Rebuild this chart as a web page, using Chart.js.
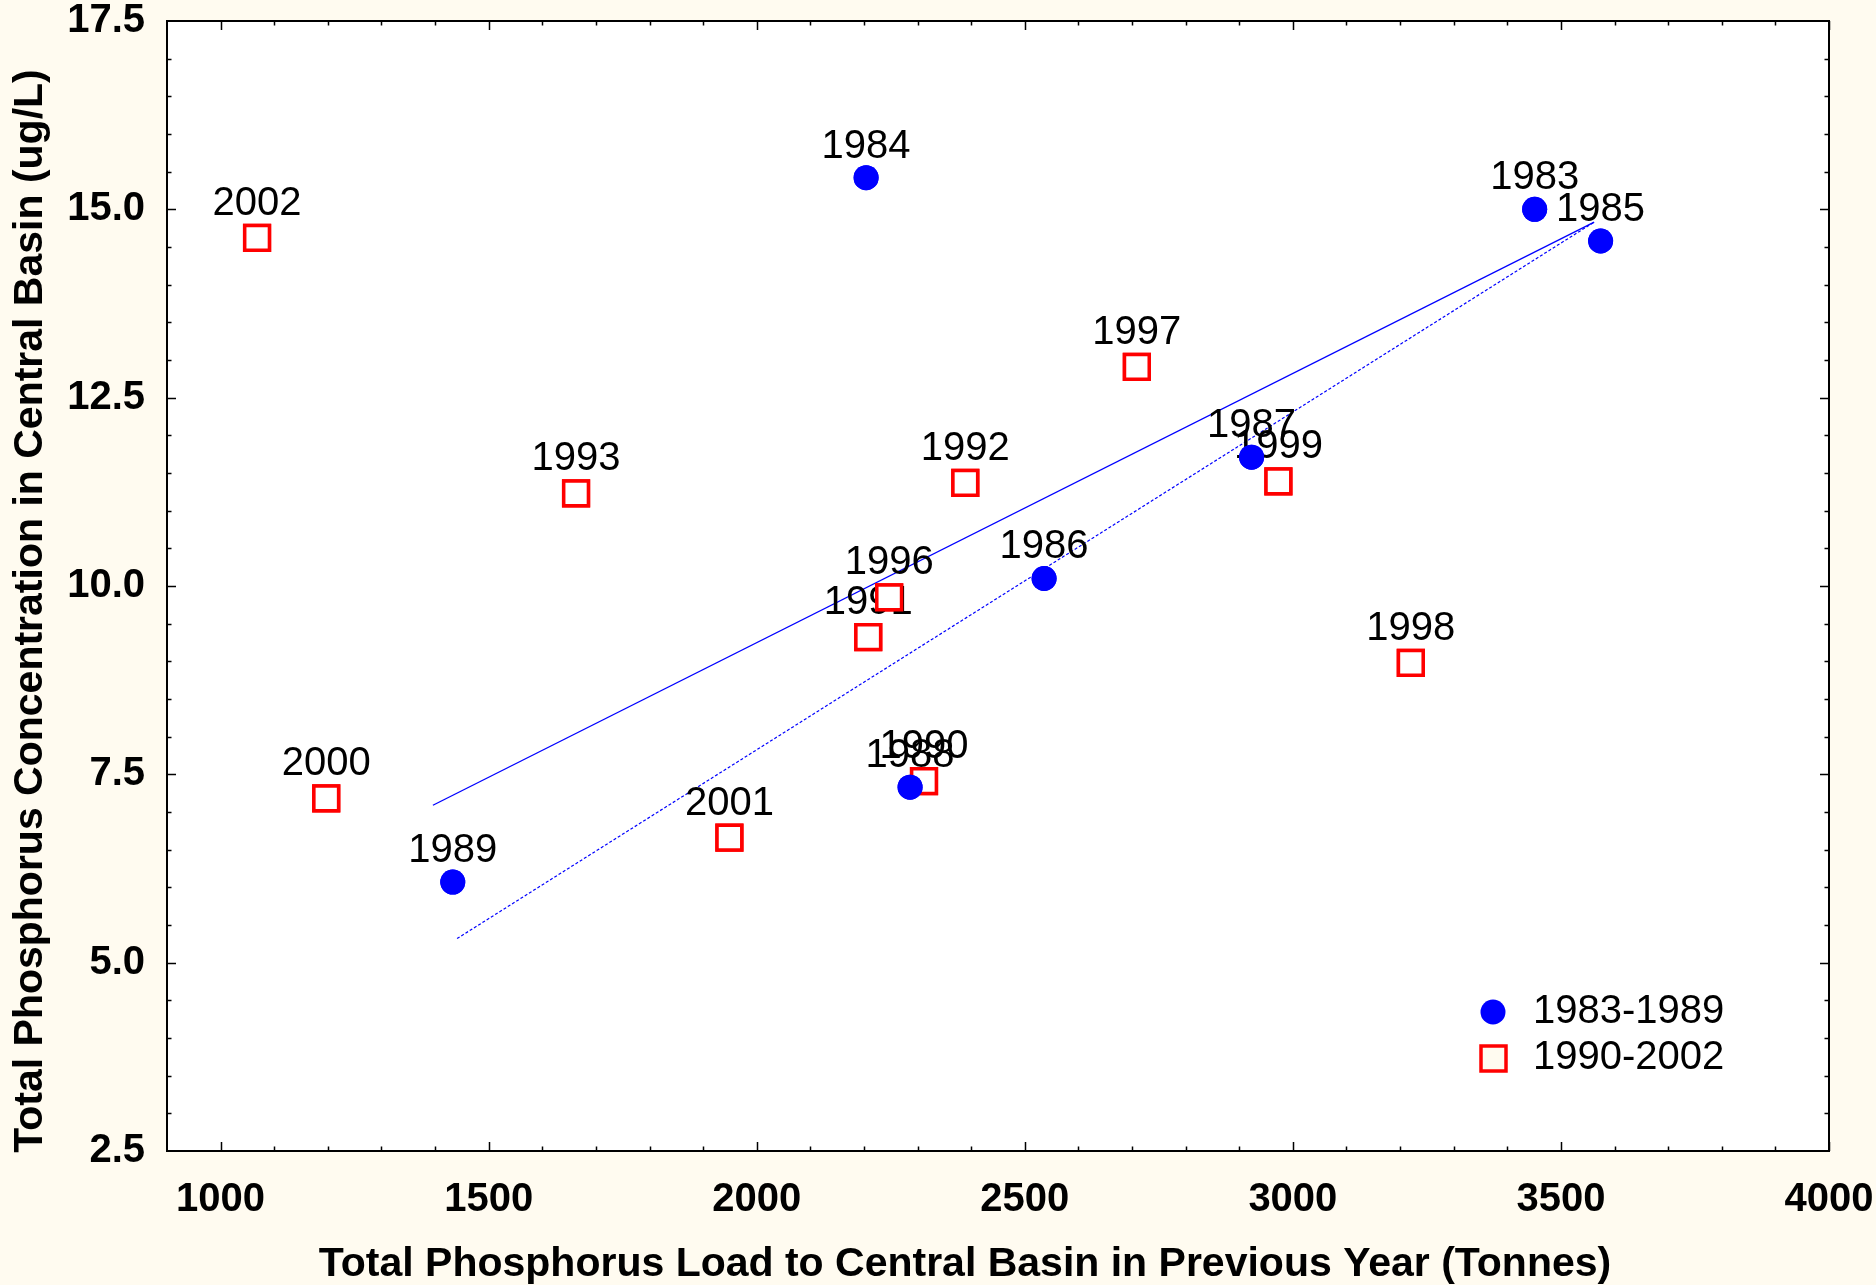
<!DOCTYPE html>
<html>
<head>
<meta charset="utf-8">
<script src="https://cdn.jsdelivr.net/npm/chart.js@4.4.0/dist/chart.umd.min.js"></script>
<style>
  html, body { margin: 0; padding: 0; background: #FFFBF0; }
  #wrap { width: 1876px; height: 1285px; }
</style>
</head>
<body>
<div id="wrap"><canvas id="tpChart" width="1876" height="1285"></canvas></div>
<script>
// tick labels
const xTicks = [1000, 1500, 2000, 2500, 3000, 3500, 4000];
const yTicks = [2.5, 5.0, 7.5, 10.0, 12.5, 15.0, 17.5];

// 1983-1989 (blue circles)
const earlyYears = ['1983', '1984', '1985', '1986', '1987', '1988', '1989'];
const earlyLoad = [3451, 2204, 3574, 2536, 2923, 2286, 1433];
const earlyConc = [15.00, 15.42, 14.58, 10.10, 11.71, 7.33, 6.07];

// 1990-2002 (red squares)
const lateYears = ['1990', '1991', '1992', '1993', '1996', '1997', '1998', '1999', '2000', '2001', '2002'];
const lateLoad = [2312, 2208, 2389, 1663, 2247, 2709, 3220, 2973, 1197, 1949, 1068];
const lateConc = [7.41, 9.32, 11.37, 11.23, 9.85, 12.91, 8.98, 11.39, 7.18, 6.66, 14.62];

// fitted lines (end points)
const fitSolidX = [1396, 3562];
const fitSolidY = [7.09, 14.83];
const fitDotX = [1441, 3562];
const fitDotY = [5.32, 14.83];

const FONT = '"Liberation Sans", Arial, sans-serif';
const BG = '#FFFBF0';

function toPoints(xs, ys) {
    return xs.map((x, i) => ({ x: x, y: ys[i] }));
}

// white plot area + frame + inward ticks on all four sides
const framePlugin = {
    id: 'frame',
    beforeDatasetsDraw(chart) {
        const a = chart.chartArea;
        const ctx = chart.ctx;
        ctx.save();
        ctx.fillStyle = '#ffffff';
        ctx.fillRect(a.left, a.top, a.right - a.left, a.bottom - a.top);
        ctx.restore();
    },
    afterDatasetsDraw(chart) {
        const a = chart.chartArea;
        const ctx = chart.ctx;
        const xs = chart.scales.x;
        const ys = chart.scales.y;
        ctx.save();
        ctx.strokeStyle = '#000';
        ctx.lineWidth = 1.5;
        ctx.beginPath();
        for (let v = 1000; v <= 4000; v += 100) {
            const px = Math.round(xs.getPixelForValue(v)) + 0.5;
            const len = (v % 500 === 0) ? 9 : 4.5;
            ctx.moveTo(px, a.bottom); ctx.lineTo(px, a.bottom - len);
            ctx.moveTo(px, a.top); ctx.lineTo(px, a.top + len);
        }
        for (let v = 3.0; v < 17.5; v += 0.5) {
            const py = Math.round(ys.getPixelForValue(v)) + 0.5;
            const len = (Math.abs(v / 2.5 - Math.round(v / 2.5)) < 1e-6) ? 9 : 4.5;
            ctx.moveTo(a.left, py); ctx.lineTo(a.left + len, py);
            ctx.moveTo(a.right, py); ctx.lineTo(a.right - len, py);
        }
        ctx.stroke();
        ctx.lineWidth = 2;
        ctx.strokeRect(a.left, a.top, a.right - a.left, a.bottom - a.top);
        ctx.restore();
    }
};

// year labels above each marker; marker and label drawn in turn,
// so a later marker hides an earlier label like in the original
const yearLabels = {
    id: 'yearLabels',
    afterDatasetDraw(chart, args) {
        const ds = chart.data.datasets[args.index];
        if (!ds.years) return;
        const ctx = chart.ctx;
        args.meta.data.forEach((pt, i) => {
            pt.draw(ctx, chart.chartArea);
            ctx.save();
            ctx.font = '40px ' + FONT;
            ctx.fillStyle = '#000';
            ctx.textAlign = 'center';
            ctx.textBaseline = 'alphabetic';
            ctx.fillText(ds.years[i], pt.x, pt.y - ds.labelGap);
            ctx.restore();
        });
    }
};

// axis titles and the legend box
const extras = {
    id: 'extras',
    afterDraw(chart) {
        const ctx = chart.ctx;
        const d0 = chart.data.datasets[0];
        const d1 = chart.data.datasets[1];
        ctx.save();
        ctx.fillStyle = '#000';
        ctx.font = 'bold 41px ' + FONT;
        ctx.textAlign = 'center';
        ctx.textBaseline = 'alphabetic';
        ctx.fillText('Total Phosphorus Load to Central Basin in Previous Year (Tonnes)', 965, 1276);
        ctx.translate(42, 611);
        ctx.rotate(-Math.PI / 2);
        ctx.fillText('Total Phosphorus Concentration in Central Basin (ug/L)', 0, 0);
        ctx.restore();

        // legend
        ctx.save();
        ctx.fillStyle = d0.backgroundColor;
        ctx.beginPath();
        ctx.arc(1493, 1012, 12.5, 0, Math.PI * 2);
        ctx.fill();
        ctx.fillStyle = BG;
        ctx.fillRect(1481, 1046, 25, 25);
        ctx.strokeStyle = d1.borderColor;
        ctx.lineWidth = d1.borderWidth;
        ctx.strokeRect(1481, 1046, 25, 25);
        ctx.fillStyle = '#000';
        ctx.font = '40px ' + FONT;
        ctx.textAlign = 'left';
        ctx.textBaseline = 'middle';
        ctx.fillText(d0.label, 1533, 1012);
        ctx.fillText(d1.label, 1533, 1058);
        ctx.restore();
    }
};

const ctx = document.getElementById('tpChart').getContext('2d');
new Chart(ctx, {
    type: 'scatter',
    data: {
        datasets: [
            {
                label: '1983-1989',
                data: toPoints(earlyLoad, earlyConc),
                years: earlyYears,
                labelGap: 20,
                pointStyle: 'circle',
                pointRadius: 12.5,
                backgroundColor: '#0000FF',
                borderColor: '#0000FF',
                borderWidth: 0
            },
            {
                label: '1990-2002',
                data: toPoints(lateLoad, lateConc),
                years: lateYears,
                labelGap: 23,
                pointStyle: 'rect',
                pointRadius: 17.5,
                backgroundColor: '#ffffff',
                borderColor: '#FF0000',
                borderWidth: 3.5
            },
            {
                label: 'fit',
                type: 'line',
                data: toPoints(fitSolidX, fitSolidY),
                borderColor: '#0000FF',
                borderWidth: 1.3,
                pointRadius: 0,
                fill: false
            },
            {
                label: 'fit 1983-1989',
                type: 'line',
                data: toPoints(fitDotX, fitDotY),
                borderColor: '#0000FF',
                borderWidth: 1.2,
                borderDash: [3, 2],
                pointRadius: 0,
                fill: false
            }
        ]
    },
    options: {
        responsive: false,
        animation: false,
        layout: { padding: { top: 20, right: 47, left: 0, bottom: 0 } },
        plugins: {
            legend: { display: false },
            tooltip: { enabled: false }
        },
        scales: {
            x: {
                type: 'linear',
                min: 900,
                max: 4000,
                grid: { display: false, drawTicks: false },
                border: { display: false },
                afterBuildTicks: (s) => { s.ticks = xTicks.map(v => ({ value: v })); },
                afterFit: (s) => { s.height = 134; s.paddingLeft = 0; s.paddingRight = 0; },
                ticks: {
                    color: '#000',
                    padding: 25,
                    maxRotation: 0,
                    autoSkip: false,
                    callback: (v) => String(v),
                    font: { family: FONT, size: 40, weight: 'bold' }
                }
            },
            y: {
                type: 'linear',
                min: 2.5,
                max: 17.5,
                grid: { display: false, drawTicks: false },
                border: { display: false },
                afterBuildTicks: (s) => { s.ticks = yTicks.map(v => ({ value: v })); },
                afterFit: (s) => { s.width = 167; s.paddingTop = 0; s.paddingBottom = 0; },
                ticks: {
                    color: '#000',
                    padding: 22,
                    autoSkip: false,
                    callback: (v) => Number(v).toFixed(1),
                    font: { family: FONT, size: 40, weight: 'bold', lineHeight: 1 }
                }
            }
        }
    },
    plugins: [framePlugin, yearLabels, extras]
});
</script>
</body>
</html>
